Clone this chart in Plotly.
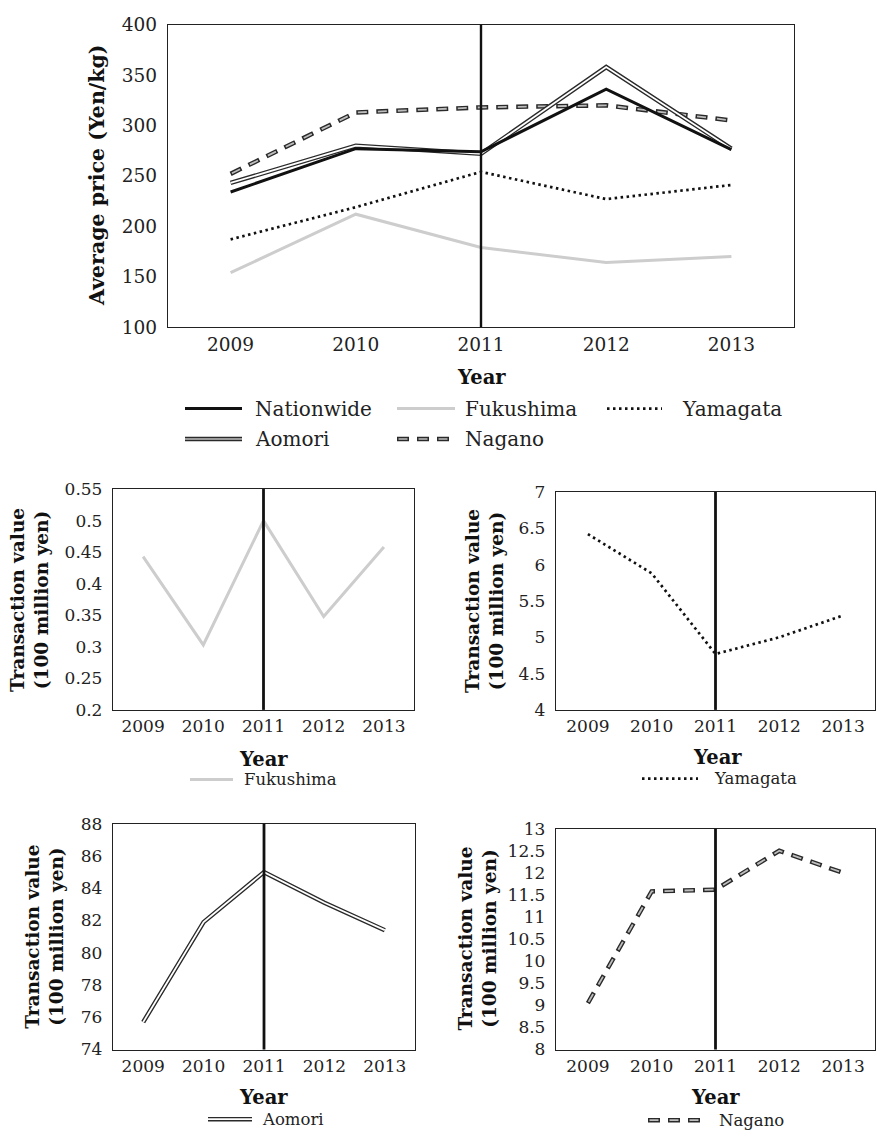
import plotly.graph_objects as go

W, H = 876, 1141
FONT = "DejaVu Serif"

# ---- data -------------------------------------------------------------
years = ["2009", "2010", "2011", "2012", "2013"]
event_year = "2011"

# average price (Yen/kg)
price_nationwide = [234, 277, 274, 336, 276]
price_fukushima = [154, 212, 179, 164, 170]
price_yamagata = [187, 219, 254, 227, 241]
price_aomori = [243, 280, 272, 358, 277]
price_nagano = [252, 313, 318, 320, 305]

# transaction value (100 million yen)
value_fukushima = [0.443, 0.303, 0.500, 0.348, 0.458]
value_yamagata = [6.42, 5.88, 4.77, 5.00, 5.30]
value_aomori = [75.7, 81.9, 85.0, 83.1, 81.4]
value_nagano = [9.05, 11.58, 11.62, 12.50, 12.00]

price_ticks = [100, 150, 200, 250, 300, 350, 400]
fukushima_ticks = [0.2, 0.25, 0.3, 0.35, 0.4, 0.45, 0.5, 0.55]
yamagata_ticks = [4, 4.5, 5, 5.5, 6, 6.5, 7]
aomori_ticks = [74, 76, 78, 80, 82, 84, 86, 88]
nagano_ticks = [8, 8.5, 9, 9.5, 10, 10.5, 11, 11.5, 12, 12.5, 13]

# ---- line styles (each series may be drawn as stacked layers) ---------
STYLES = {
    "Nationwide": [dict(color="#111111", width=3)],
    "Fukushima": [dict(color="#cdcdcd", width=3)],
    "Yamagata": [dict(color="#111111", width=2.7, dash="2.5px,3.5px")],
    "Aomori": [dict(color="#2a2a2a", width=4.5), dict(color="#ffffff", width=1.8)],
    "Nagano": [dict(color="#2a2a2a", width=4.5, dash="12px,8px"),
               dict(color="#bdbdbd", width=1.8, dash="0px,1.5px,9px,9.5px")],
}


def px(x):
    return x / W


def py(y):
    return 1 - y / H


fig = go.Figure()
shapes = []
annotations = []


def add_panel(idx, box, series, ticks, tick_size):
    """box = (left, top, right, bottom) in pixels."""
    left, top, right, bottom = box
    sfx = "" if idx == 1 else str(idx)
    xa, ya = "xaxis" + sfx, "yaxis" + sfx
    xr, yr = "x" + sfx, "y" + sfx
    fig.update_layout({
        xa: dict(domain=[px(left), px(right)], anchor=yr, type="category",
                 range=[-0.5, len(years) - 0.5], showgrid=False, zeroline=False,
                 showline=True, mirror=True, linecolor="#222222", linewidth=1.3,
                 ticks="", tickfont=dict(family=FONT, size=tick_size, color="#222222"),
                 ticklabelstandoff=1, fixedrange=True),
        ya: dict(domain=[py(bottom), py(top)], anchor=xr,
                 range=[ticks[0], ticks[-1]], tickvals=ticks,
                 ticktext=[f"{t:g}" for t in ticks], showgrid=False, zeroline=False,
                 showline=True, mirror=True, linecolor="#222222", linewidth=1.3,
                 ticks="", tickfont=dict(family=FONT, size=tick_size, color="#222222"),
                 ticklabelstandoff=6, fixedrange=True),
    })
    for name, values in series:
        for layer in STYLES[name]:
            fig.add_trace(go.Scatter(x=years, y=values, mode="lines", name=name,
                                     line=layer, xaxis=xr, yaxis=yr,
                                     showlegend=False, hoverinfo="skip"))
    # marker line for the event year
    ev = years.index(event_year)
    shapes.append(dict(type="line", xref=xr, yref=yr + " domain", x0=ev, x1=ev,
                       y0=0, y1=1, line=dict(color="#111111", width=2.8 if idx > 1 else 2.4)))


def legend_entry(name, x0, x1, y, text_x, size, layers=None):
    for layer in (layers or STYLES[name]):
        shapes.append(dict(type="line", xref="paper", yref="paper",
                           x0=px(x0), x1=px(x1), y0=py(y), y1=py(y), line=layer))
    annotations.append(dict(text=name, xref="paper", yref="paper", x=px(text_x), y=py(y),
                            xanchor="left", yanchor="middle", showarrow=False,
                            font=dict(family=FONT, size=size, color="#222222")))


def label(text, x, y, size=18, angle=0):
    annotations.append(dict(text=text, xref="paper", yref="paper", x=px(x), y=py(y),
                            xanchor="center", yanchor="middle", showarrow=False,
                            textangle=angle,
                            font=dict(family=FONT, size=size, color="#111111")))


# ---- top panel: average price ----------------------------------------
add_panel(1, (168, 14, 794, 322),
          [("Fukushima", price_fukushima), ("Yamagata", price_yamagata),
           ("Nagano", price_nagano), ("Aomori", price_aomori),
           ("Nationwide", price_nationwide)],
          price_ticks, 18.5)
label("<b>Average price (Yen/kg)</b>", 97, 168, 20.5, -90)
label("<b>Year</b>", 481, 373, 19.5)

legend_entry("Nationwide", 185, 242, 405, 253, 20)
legend_entry("Fukushima", 397, 455, 405, 463, 20)
legend_entry("Yamagata", 607, 662, 405, 680, 20)
legend_entry("Aomori", 185, 242, 436, 253, 20,
             [dict(color="#2a2a2a", width=4.5), dict(color="#9a9a9a", width=1.8)])
legend_entry("Nagano", 397, 455, 436, 463, 20,
             [dict(color="#2a2a2a", width=4.5, dash="12px,8px"),
              dict(color="#9a9a9a", width=1.8, dash="0px,1.5px,9px,9.5px")])

# ---- small panels: transaction value ---------------------------------
ytitle = "<b>Transaction value<br>(100 million yen)</b>"

add_panel(2, (113, 487, 414, 712), [("Fukushima", value_fukushima)], fukushima_ticks, 17)
label(ytitle, 30, 600, 18.5, -90)
label("<b>Year</b>", 263, 763, 19.5)
legend_entry("Fukushima", 190, 233, 783, 242, 16.5)

add_panel(3, (556, 490, 875, 712), [("Yamagata", value_yamagata)], yamagata_ticks, 17)
label(ytitle, 485, 601, 18.5, -90)
label("<b>Year</b>", 717, 760, 19.5)
legend_entry("Yamagata", 642, 698, 782, 712, 16.5)

add_panel(4, (113, 828, 415, 1058), [("Aomori", value_aomori)], aomori_ticks, 17)
label(ytitle, 45, 943, 18.5, -90)
label("<b>Year</b>", 263, 1107, 19.5)
legend_entry("Aomori", 208, 252, 1129, 260, 16.5)

add_panel(5, (556, 833, 875, 1058), [("Nagano", value_nagano)], nagano_ticks, 17)
label(ytitle, 478, 945, 18.5, -90)
label("<b>Year</b>", 715, 1107, 19.5)
legend_entry("Nagano", 648, 707, 1130, 717, 16.5)

fig.update_layout(width=W, height=H, margin=dict(l=0, r=0, t=0, b=0),
                  paper_bgcolor="white", plot_bgcolor="white", showlegend=False,
                  shapes=shapes, annotations=annotations)

# page body without default margin so the figure sits flush in the window
fig.write_html("out.html", post_script="document.body.style.margin = '0';")
